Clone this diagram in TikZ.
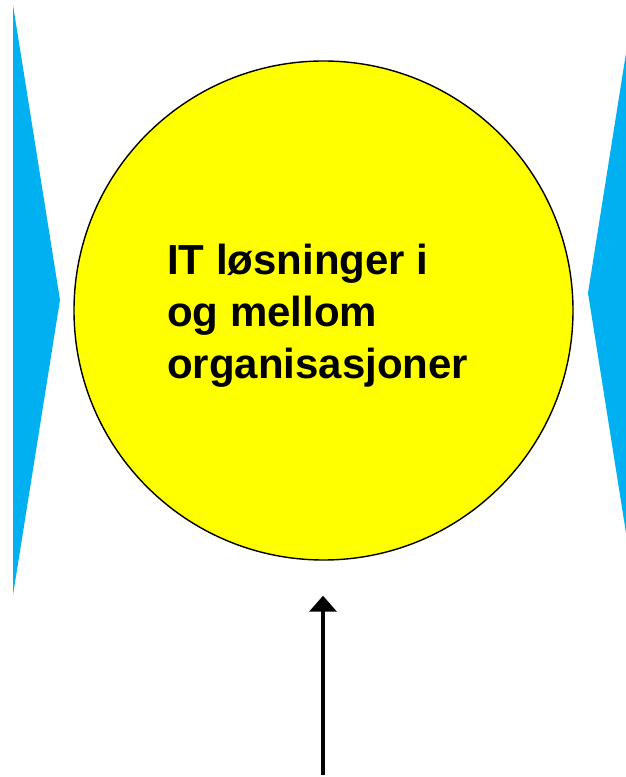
\documentclass[tikz,border=0pt]{standalone}
\usepackage{fontspec}
\setmainfont{Liberation Sans}
\usetikzlibrary{positioning,arrows.meta,calc}

\definecolor{itblue}{HTML}{00B0F0}
\definecolor{ityellow}{HTML}{FFFF00}

\begin{document}
\begin{tikzpicture}[
    x=1pt, y=1pt,
    flow/.style={-{Triangle[length=16pt,width=27pt]}, line width=3.5pt, draw=black},
    bigcircle/.style={
        circle,
        draw=black,
        fill=ityellow,
        line width=1.4pt,
        minimum size=499pt,
        inner sep=0pt
    },
    wedge/.style={fill=itblue, draw=none},
    circletext/.style={
        align=left,
        inner sep=0pt,
        anchor=north west,
        font=\bfseries\fontsize{42}{52}\selectfont
    }
]
\useasboundingbox (0,0) rectangle (625,777);

% side wedges
\fill[wedge] (13,772) -- (60,477) -- (13,182) -- cycle;
\fill[wedge] (626,724) -- (588,484) -- (626,244) -- cycle;

\node[bigcircle] (circ) at (323.5,466.5) {};
\node[circletext] (label) at (167,533) {IT løsninger i\\og mellom\\organisasjoner};

\coordinate (src) at (323,2);
\coordinate (tgt) at ($(circ.south)+(-0.5,-35)$);
\draw[flow] (src) -- (tgt);
\end{tikzpicture}
\end{document}
